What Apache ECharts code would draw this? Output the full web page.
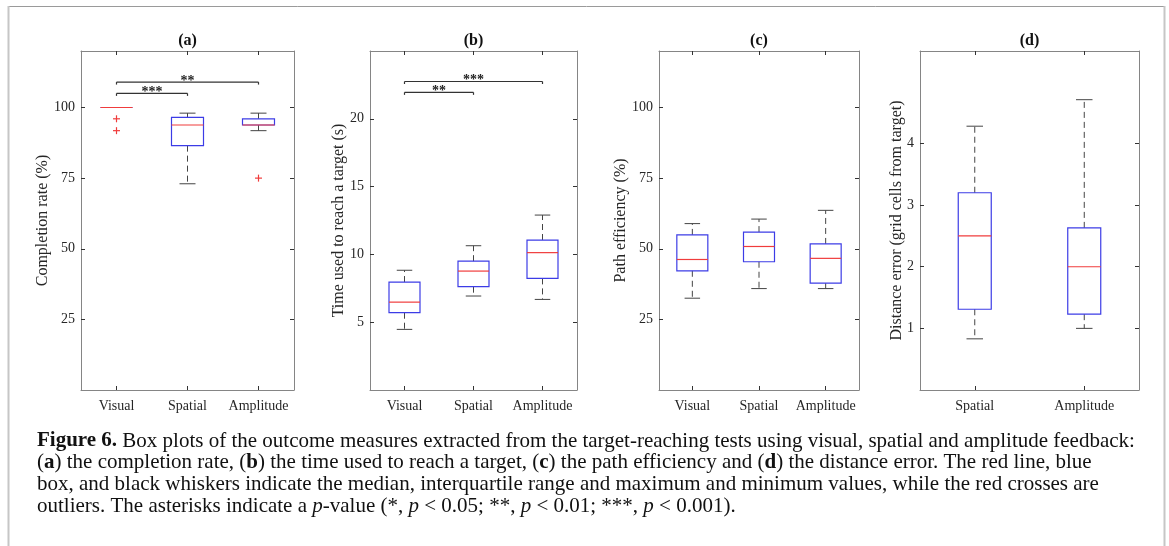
<!DOCTYPE html>
<html>
<head>
<meta charset="utf-8">
<script src="https://cdn.jsdelivr.net/npm/echarts@6.0.0/dist/echarts.min.js"></script>
<style>
  html, body { margin: 0; padding: 0; background: #fff; }
  #fig6 { width: 1169px; height: 546px; }
</style>
</head>
<body>
<div id="fig6"></div>
<script>
// categories
const groups3 = ['Visual', 'Spatial', 'Amplitude']
const groups2 = ['Spatial', 'Amplitude']

// box values: [min, q1, median, q3, max]
const rateBox = [[100, 100, 100, 100, 100], [73, 86.5, 93.8, 96.5, 98], [91.8, 93.8, 93.8, 96, 98]]
const rateOutliers = [[0, 96], [0, 91.8], [2, 75]]
const timeBox = [[4.47, 5.7, 6.48, 7.96, 8.83], [6.93, 7.62, 8.77, 9.5, 10.64], [6.68, 8.23, 10.13, 11.06, 12.9]]
const effBox = [[32.5, 42.2, 46.2, 54.9, 58.9], [35.9, 45.4, 50.8, 55.9, 60.5], [35.9, 37.8, 46.6, 51.7, 63.6]]
const distBox = [[0.83, 1.31, 2.5, 3.2, 4.28], [1.0, 1.23, 2.0, 2.63, 4.71]]

// significance brackets: [from, to, height, stars]
const rateSig = [[0, 1, 105, '***'], [0, 2, 109, '**']]
const timeSig = [[0, 1, 21.95, '**'], [0, 2, 22.75, '***']]

// tick labels
const rateTicks = [25, 50, 75, 100]
const timeTicks = [5, 10, 15, 20]
const effTicks = [25, 50, 75, 100]
const distTicks = [1, 2, 3, 4]

const SERIF = 'Liberation Serif'
const FRAME = '#858585'

const panels = [
  { title: '(a)', name: 'Completion rate (%)', cats: groups3, box: rateBox, out: rateOutliers, sig: rateSig,
    ticks: rateTicks, min: 0, max: 120, grid: { left: 81, top: 51, width: 213, height: 339 }, gap: 30, bw: 32 },
  { title: '(b)', name: 'Time used to reach a target (s)', cats: groups3, box: timeBox, out: [], sig: timeSig,
    ticks: timeTicks, min: 0, max: 25, grid: { left: 370, top: 51, width: 207, height: 339 }, gap: 23, bw: 31 },
  { title: '(c)', name: 'Path efficiency (%)', cats: groups3, box: effBox, out: [], sig: [],
    ticks: effTicks, min: 0, max: 120, grid: { left: 659, top: 51, width: 200, height: 339 }, gap: 30, bw: 31 },
  { title: '(d)', name: 'Distance error (grid cells from target)', cats: groups2, box: distBox, out: [], sig: [],
    ticks: distTicks, min: 0, max: 5.5, grid: { left: 920, top: 51, width: 219, height: 339 }, gap: 15, bw: 33 }
]

function boxRenderer(boxW) {
  return function (params, api) {
    const i = api.value(0)
    const pts = [1, 2, 3, 4, 5].map(d => api.coord([i, api.value(d)]))
    const cx = pts[0][0]
    const yMin = pts[0][1], yQ1 = pts[1][1], yMed = pts[2][1], yQ3 = pts[3][1], yMax = pts[4][1]
    const hw = boxW / 2, cw = boxW / 4
    const dash = { stroke: '#444', lineWidth: 1, lineDash: [6, 4] }
    const solid = { stroke: '#444', lineWidth: 1 }
    return {
      type: 'group',
      children: [
        { type: 'line', shape: { x1: cx, y1: yQ3, x2: cx, y2: yMax }, style: dash },
        { type: 'line', shape: { x1: cx, y1: yQ1, x2: cx, y2: yMin }, style: dash },
        { type: 'line', shape: { x1: cx - cw, y1: yMax, x2: cx + cw, y2: yMax }, style: solid },
        { type: 'line', shape: { x1: cx - cw, y1: yMin, x2: cx + cw, y2: yMin }, style: solid },
        { type: 'rect', shape: { x: cx - hw, y: yQ3, width: boxW, height: yQ1 - yQ3 },
          style: { fill: 'none', stroke: '#3c3ce6', lineWidth: 1.2 } },
        { type: 'line', shape: { x1: cx - hw, y1: yMed, x2: cx + hw, y2: yMed },
          style: { stroke: '#f03c3c', lineWidth: 1.2 } }
      ]
    }
  }
}

function outlierRenderer(params, api) {
  const p = api.coord([api.value(0), api.value(1)])
  const s = 3.5
  const st = { stroke: '#f03c3c', lineWidth: 1.2 }
  return {
    type: 'group',
    children: [
      { type: 'line', shape: { x1: p[0] - s, y1: p[1], x2: p[0] + s, y2: p[1] }, style: st },
      { type: 'line', shape: { x1: p[0], y1: p[1] - s, x2: p[0], y2: p[1] + s }, style: st }
    ]
  }
}

function sigRenderer(list) {
  return function (params, api) {
    const it = list[params.dataIndex]
    const a = api.coord([it[0], it[2]])
    const b = api.coord([it[1], it[2]])
    const st = { stroke: '#333', lineWidth: 1.2 }
    return {
      type: 'group',
      children: [
        { type: 'line', shape: { x1: a[0], y1: a[1], x2: b[0], y2: b[1] }, style: st },
        { type: 'line', shape: { x1: a[0], y1: a[1], x2: a[0], y2: a[1] + 2.5 }, style: st },
        { type: 'line', shape: { x1: b[0], y1: b[1], x2: b[0], y2: b[1] + 2.5 }, style: st },
        { type: 'text', x: (a[0] + b[0]) / 2, y: a[1] - 1,
          style: { text: it[3], fill: '#222', fontFamily: SERIF, fontSize: 14, fontWeight: 'bold',
                   align: 'center', verticalAlign: 'middle' } }
      ]
    }
  }
}

const grid = [], xAxis = [], yAxis = [], series = [], graphic = []

panels.forEach((p, k) => {
  grid.push(Object.assign({ outerBoundsMode: 'none', containLabel: false }, p.grid))
  const tickStyle = { show: true, inside: true, length: 4, lineStyle: { color: '#333', width: 1 } }
  const lineStyle = { show: true, onZero: false, lineStyle: { color: FRAME, width: 1 } }
  xAxis.push({
    type: 'category', gridIndex: k, data: p.cats, position: 'bottom',
    axisLine: lineStyle, axisTick: Object.assign({ alignWithLabel: true, interval: 0 }, tickStyle),
    axisLabel: { interval: 0, hideOverlap: false, fontFamily: SERIF, fontSize: 14, color: '#262626', margin: 9 }
  })
  xAxis.push({
    type: 'category', gridIndex: k, data: p.cats, position: 'top',
    axisLine: lineStyle, axisTick: Object.assign({ alignWithLabel: true, interval: 0 }, tickStyle),
    axisLabel: { show: false }
  })
  yAxis.push({
    type: 'value', gridIndex: k, min: p.min, max: p.max, position: 'left',
    name: p.name, nameLocation: 'middle', nameGap: p.gap, nameMoveOverlap: false,
    nameTextStyle: { fontFamily: SERIF, fontSize: 16, color: '#262626' },
    axisLine: lineStyle, splitLine: { show: false },
    axisTick: Object.assign({ customValues: p.ticks }, tickStyle),
    axisLabel: { customValues: p.ticks, fontFamily: SERIF, fontSize: 14, color: '#262626', margin: 6 }
  })
  yAxis.push({
    type: 'value', gridIndex: k, min: p.min, max: p.max, position: 'right',
    axisLine: lineStyle, splitLine: { show: false },
    axisTick: Object.assign({ customValues: p.ticks }, tickStyle),
    axisLabel: { show: false }
  })

  series.push({
    type: 'custom', xAxisIndex: 2 * k, yAxisIndex: 2 * k,
    data: p.box.map((b, i) => [i].concat(b)),
    encode: { x: 0, y: [1, 2, 3, 4, 5] },
    renderItem: boxRenderer(p.bw), silent: true
  })
  if (p.out.length) {
    series.push({
      type: 'custom', xAxisIndex: 2 * k, yAxisIndex: 2 * k,
      data: p.out, encode: { x: 0, y: 1 }, renderItem: outlierRenderer, silent: true
    })
  }
  if (p.sig.length) {
    series.push({
      type: 'custom', xAxisIndex: 2 * k, yAxisIndex: 2 * k,
      data: p.sig.map(s => [s[0], s[1], s[2]]), encode: { x: [0, 1], y: 2 },
      renderItem: sigRenderer(p.sig), silent: true
    })
  }

  graphic.push({
    type: 'text', x: p.grid.left + p.grid.width / 2, y: 41,
    style: { text: p.title, fill: '#111', fontFamily: SERIF, fontSize: 16, fontWeight: 'bold',
             align: 'center', verticalAlign: 'middle' }
  })
})

// figure frame
graphic.push({ type: 'line', shape: { x1: 8, y1: 6.5, x2: 1165, y2: 6.5 }, style: { stroke: '#9a9a9a', lineWidth: 1 } })
graphic.push({ type: 'line', shape: { x1: 8.5, y1: 6, x2: 8.5, y2: 546 }, style: { stroke: '#c6c6c6', lineWidth: 2 } })
graphic.push({ type: 'line', shape: { x1: 1164.5, y1: 6, x2: 1164.5, y2: 546 }, style: { stroke: '#c6c6c6', lineWidth: 2 } })

// caption
const capSize = 21
const base = { fontFamily: SERIF, fontSize: capSize, fill: '#111' }
const rich = {
  b: { fontFamily: SERIF, fontSize: capSize, fontWeight: 'bold', fill: '#111' },
  i: { fontFamily: SERIF, fontSize: capSize, fontStyle: 'italic', fill: '#111' },
  n: { fontFamily: SERIF, fontSize: capSize, fill: '#111' }
}
const captionLines = [
  '{b|Figure 6.}{n| Box plots of the outcome measures extracted from the target-reaching tests using visual, spatial and amplitude feedback:}',
  '{n|(}{b|a}{n|) the completion rate, (}{b|b}{n|) the time used to reach a target, (}{b|c}{n|) the path efficiency and (}{b|d}{n|) the distance error. The red line, blue}',
  '{n|box, and black whiskers indicate the median, interquartile range and maximum and minimum values, while the red crosses are}',
  '{n|outliers. The asterisks indicate a }{i|p}{n|-value (*, }{i|p}{n| < 0.05; **, }{i|p}{n| < 0.01; ***, }{i|p}{n| < 0.001).}'
]
captionLines.forEach((t, j) => {
  graphic.push({
    type: 'text', x: 37, y: 441 + j * 21.7,
    style: Object.assign({ text: t, rich: rich, align: 'left', verticalAlign: 'middle' }, base)
  })
})

const chart = echarts.init(document.getElementById('fig6'))
chart.setOption({
  animation: false,
  backgroundColor: '#fff',
  grid: grid,
  xAxis: xAxis,
  yAxis: yAxis,
  series: series,
  graphic: graphic
})
</script>
</body>
</html>
